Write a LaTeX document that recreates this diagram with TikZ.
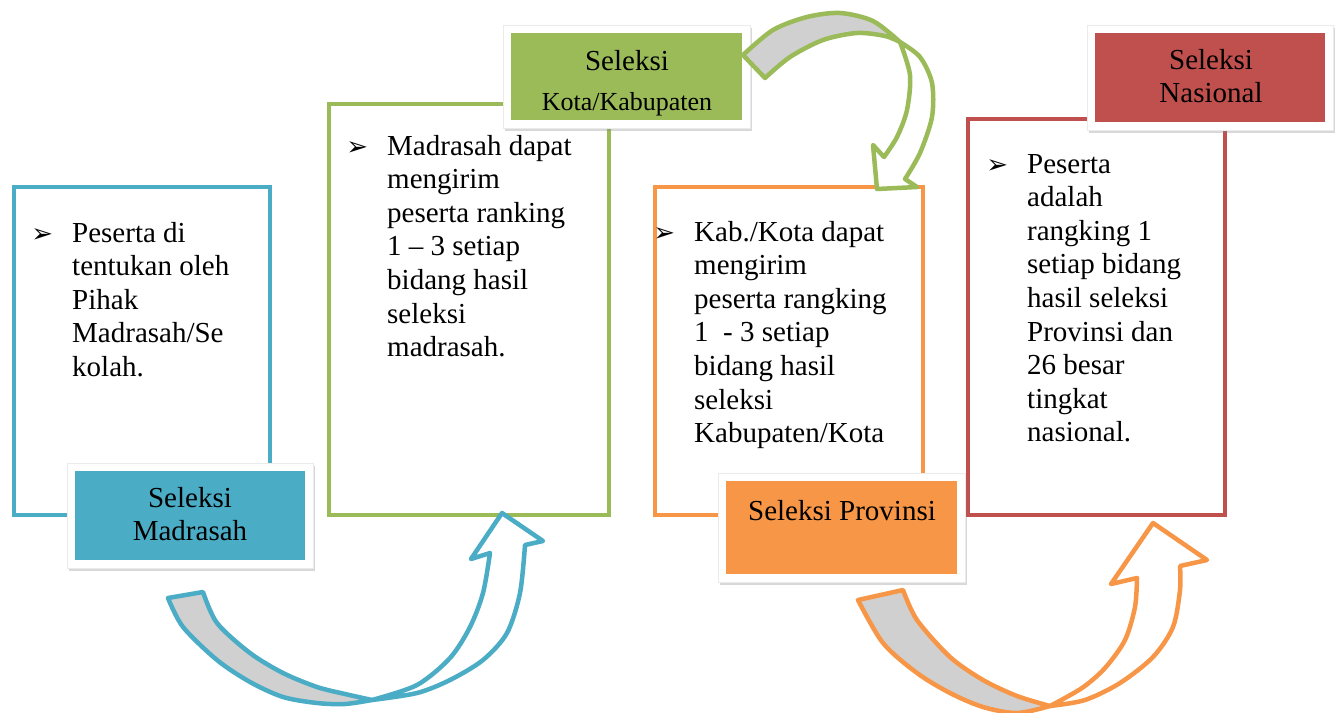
\documentclass[tikz,border=0pt]{standalone}
\usepackage{fontspec}
\setmainfont{Liberation Serif}
\newfontfamily\dejavu{DejaVu Sans}
\usetikzlibrary{shadows}
\definecolor{cblue}{HTML}{4BACC6}
\definecolor{cgreen}{HTML}{9BBB59}
\definecolor{corange}{HTML}{F79646}
\definecolor{cred}{HTML}{C0504D}
\definecolor{cgray}{HTML}{D0D0D0}
\newcommand{\bul}{\leavevmode\llap{{\dejavu\fontsize{26}{26}\selectfont ➢}\hspace{19pt}}}
\newcommand{\bodyfont}{\fontsize{29}{33.6}\selectfont}
\begin{document}
\begin{tikzpicture}[x=1pt,y=-1pt,
  outerbox/.style={draw=#1, line width=4pt, fill=white, anchor=north west, inner sep=0pt},
  labelbox/.style={fill=white, draw=black!8, line width=0.6pt, anchor=north west, inner sep=0pt,
    drop shadow={opacity=0.3, shadow xshift=1.5pt, shadow yshift=-2.5pt},
    path picture={\fill[#1] ([shift={(8pt,-8pt)}]path picture bounding box.north west) rectangle ([shift={(-8pt,8pt)}]path picture bounding box.south east);}},
  bodytext/.style={anchor=base west, inner sep=0pt, font=\bodyfont},
  labeltext/.style={anchor=base, inner sep=0pt, font=\bodyfont},
  backarrow/.style={draw=#1, fill=cgray, line width=4.5pt, line join=round},
  frontarrow/.style={draw=#1, fill=white, line width=4.5pt, line join=round},
]
\fill[white] (0,0) rectangle (1341,712);
\clip (0,0) rectangle (1341,712);

% outer boxes
\node[outerbox=cblue, minimum width=256pt, minimum height=328pt] (boxA) at (12,185) {};
\node[outerbox=cgreen, minimum width=280pt, minimum height=411pt] (boxB) at (327,102) {};
\node[outerbox=corange, minimum width=268pt, minimum height=328pt] (boxC) at (653,185) {};
\node[outerbox=cred, minimum width=257pt, minimum height=396pt] (boxD) at (966,117) {};

% label frames
\node[labelbox=cblue, minimum width=246pt, minimum height=105pt] (labA) at (67,463) {};
\node[labelbox=cgreen, minimum width=247pt, minimum height=103pt] (labB) at (503,25) {};
\node[labelbox=corange, minimum width=247pt, minimum height=109pt] (labC) at (718,473) {};
\node[labelbox=cred, minimum width=246pt, minimum height=105pt] (labD) at (1087,25) {};

% body texts
\node[bodytext] (tA) at (72,242) {\parbox[t]{250pt}{\raggedright\bul Peserta di\\tentukan oleh\\Pihak\\Madrasah/Se\\kolah.}};
\node[bodytext] (tB) at (387,155) {\parbox[t]{250pt}{\raggedright\bul Madrasah dapat\\mengirim\\peserta ranking\\1 -- 3 setiap\\bidang hasil\\seleksi\\madrasah.}};
\node[bodytext] (tC) at (694,241) {\parbox[t]{250pt}{\raggedright\bul Kab./Kota dapat\\mengirim\\peserta rangking\\1\ \ - 3 setiap\\bidang hasil\\seleksi\\Kabupaten/Kota}};
\node[bodytext] (tD) at (1027,173) {\parbox[t]{250pt}{\raggedright\bul Peserta\\adalah\\rangking 1\\setiap bidang\\hasil seleksi\\Provinsi dan\\26 besar\\tingkat\\nasional.}};

% label texts
\node[labeltext] (lA) at (190,507) {\parbox[t]{240pt}{\centering Seleksi\\Madrasah}};
\node[labeltext] (lB) at (627,70) {\parbox[t]{240pt}{\centering Seleksi\\[6.4pt]{\fontsize{26}{30}\selectfont Kota/Kabupaten}}};
\node[labeltext] (lC) at (842,520) {\parbox[t]{240pt}{\centering Seleksi Provinsi}};
\node[labeltext] (lD) at (1211,69) {\parbox[t]{240pt}{\centering Seleksi\\Nasional}};

% blue curved arrow
\path[backarrow=cblue] plot[smooth] coordinates {(168,598) (183,627) (217,660) (250,682) (283,697) (317,703) (345,704) (372,700)}
  -- plot[smooth] coordinates {(372,700) (345,694) (317,687) (283,673) (250,653) (217,623) (203,592)} -- cycle;
\path[frontarrow=cblue] plot[smooth] coordinates {(372,700) (417,685) (450,658) (470,627) (483,593) (490,553)}
  -- (471,559) -- (502,513) -- (543,541) -- (525,545)
  -- plot[smooth] coordinates {(525,545) (520,593) (507,633) (483,660) (450,680) (417,693) (372,700)} -- cycle;

% green curved arrow
\path[backarrow=cgreen] plot[smooth] coordinates {(743,55) (773,30) (807,17) (840,13) (873,21) (900,42)}
  -- plot[smooth] coordinates {(900,42) (885,36) (857,33) (823,40) (790,57) (765,78)} -- cycle;
\path[frontarrow=cgreen] plot[smooth] coordinates {(900,42) (910,75) (907,110) (897,137) (884,157)}
  -- (873,145) -- (877,189) -- (917,187) -- (905,179)
  -- plot[smooth] coordinates {(905,179) (920,153) (932,117) (932,83) (920,57) (900,42)} -- cycle;

% orange curved arrow
\path[backarrow=corange] plot[smooth] coordinates {(858,600) (883,643) (917,673) (950,693) (983,707) (1017,713) (1050,706)}
  -- plot[smooth] coordinates {(1050,706) (1017,696) (983,680) (950,657) (917,620) (903,590)} -- cycle;
\path[frontarrow=corange] plot[smooth] coordinates {(1050,706) (1082,688) (1105,668) (1125,640) (1135,607) (1137,578)}
  -- (1111,584) -- (1153,523) -- (1207,560) -- (1180,566)
  -- plot[smooth] coordinates {(1180,566) (1180,590) (1173,627) (1153,657) (1120,683) (1085,700) (1050,706)} -- cycle;
\end{tikzpicture}
\end{document}
